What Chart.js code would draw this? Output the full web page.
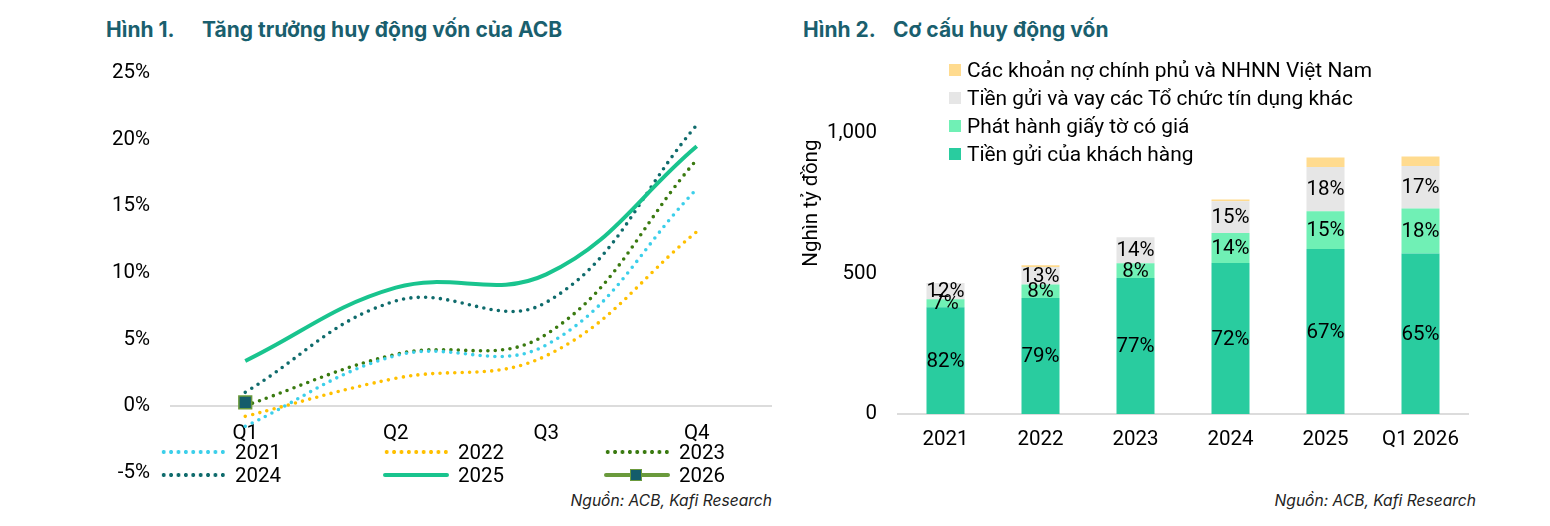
<!DOCTYPE html>
<html>
<head>
<meta charset="utf-8">
<script src="https://cdn.jsdelivr.net/npm/chart.js@4.4.1/dist/chart.umd.min.js"></script>
<style>
  html, body { margin: 0; padding: 0; background: #fff; }
  body { width: 1550px; height: 526px; position: relative; overflow: hidden; font-family: Roboto, sans-serif; }
  .abs { position: absolute; white-space: nowrap; }
  .title { font-family: Inter, Roboto, sans-serif; font-weight: 700; font-size: 21px; color: #1a5f6e; line-height: 24px; }
  .src { font-family: Inter, Roboto, sans-serif; font-style: italic; font-size: 15.6px; color: #222; line-height: 18px; }
  .leg { font-size: 20.5px; color: #000; line-height: 24px; }
  .leg2 { font-size: 20.9px; }
  .sw { position: absolute; }
</style>
</head>
<body>
<div class="abs title" style="left:106px; top:18px;">Hình 1.</div>
<div class="abs title" style="left:202px; top:18px;">Tăng trưởng huy động vốn của ACB</div>
<div class="abs title" style="left:803px; top:18px;">Hình 2.</div>
<div class="abs title" style="left:893px; top:18px;">Cơ cấu huy động vốn</div>

<div class="abs" style="left:100px; top:50px; width:690px; height:440px;"><canvas id="c1" width="690" height="440"></canvas></div>
<div class="abs" style="left:790px; top:-20px; width:700px; height:484px;"><canvas id="c2" width="700" height="484"></canvas></div>

<div id="leg1"></div>
<div id="leg2"></div>

<div class="abs src" style="right:778px; top:492px;">Nguồn: ACB, Kafi Research</div>
<div class="abs src" style="right:74px; top:492px;">Nguồn: ACB, Kafi Research</div>

<script>
// ---------- Data: Figure 1 (growth of funding, % YTD) ----------
const quarters = ['Q1', 'Q2', 'Q3', 'Q4'];
const growth2021 = [-1.5, 3.8, 4.6, 16.3];
const growth2022 = [-0.75, 2.1, 3.8, 13.1];
const growth2023 = [0.05, 3.9, 5.4, 18.5];
const growth2024 = [1.05, 7.9, 7.8, 21.1];
const growth2025 = [3.4, 8.9, 9.9, 19.5];
const growth2026 = [0.3, null, null, null];
const seriesNames1 = ['2021', '2022', '2023', '2024', '2025', '2026'];

// ---------- Data: Figure 2 (funding structure, thousand bn VND) ----------
const barCategories = ['2021', '2022', '2023', '2024', '2025', 'Q1 2026'];
const customerDeposits = [380, 413, 484, 537, 587, 571];
const valuablePapers = [28, 48, 52, 107, 134, 160];
const interbankDeposits = [58, 62, 93, 113, 158, 151];
const govDebt = [0, 6, 0, 6, 33, 34];
const customerPct = ['82%', '79%', '77%', '72%', '67%', '65%'];
const papersPct = ['7%', '8%', '8%', '14%', '15%', '18%'];
const interbankPct = ['12%', '13%', '14%', '15%', '18%', '17%'];
const seriesNames2 = ['Tiền gửi của khách hàng', 'Phát hành giấy tờ có giá', 'Tiền gửi và vay các Tổ chức tín dụng khác', 'Các khoản nợ chính phủ và NHNN Việt Nam'];

const FS = 20.5;
Chart.defaults.font.family = 'Roboto, sans-serif';
Chart.defaults.font.size = FS;
Chart.defaults.color = '#000';

const C = {
  c2021: '#3ccfea', c2022: '#ffc000', c2023: '#3a7a10', c2024: '#0f6b6c',
  c2025: '#19c48e', c2026: '#6a9a3c', c2026fill: '#145c6b',
  customer: '#29cc9f', papers: '#70f0b5', interbank: '#e6e6e6', gov: '#ffdb8f'
};

function dotted(label, data, color) {
  return { label, data, borderColor: color, backgroundColor: color, borderWidth: 3.6,
    borderDash: [0, 7.4], borderCapStyle: 'round', pointRadius: 0, tension: 0.4, order: 2 };
}

new Chart(document.getElementById('c1'), {
  type: 'line',
  data: {
    labels: quarters,
    datasets: [
      dotted(seriesNames1[0], growth2021, C.c2021),
      dotted(seriesNames1[1], growth2022, C.c2022),
      dotted(seriesNames1[2], growth2023, C.c2023),
      dotted(seriesNames1[3], growth2024, C.c2024),
      { label: seriesNames1[4], data: growth2025, borderColor: C.c2025, backgroundColor: C.c2025,
        borderWidth: 4, pointRadius: 0, tension: 0.4, order: 1 },
      { label: seriesNames1[5], data: growth2026, borderColor: C.c2026, backgroundColor: C.c2026fill,
        borderWidth: 4, pointStyle: 'rect', pointRadius: 9, pointBorderWidth: 1.5,
        pointBorderColor: C.c2026, pointBackgroundColor: C.c2026fill, order: 0 }
    ]
  },
  options: {
    responsive: false, animation: false, devicePixelRatio: 1,
    layout: { padding: { top: 23, bottom: 17, left: 0, right: 18 } },
    plugins: { legend: { display: false }, tooltip: { enabled: false } },
    scales: {
      x: {
        type: 'category', position: { y: 0 }, offset: true,
        grid: { display: false, drawTicks: false }, border: { display: false },
        ticks: { padding: 15, color: '#000', font: { size: FS } },
        afterFit: (s) => { s.height = 0; }
      },
      y: {
        min: -5, max: 25,
        ticks: { stepSize: 5, padding: 0, color: '#000', font: { size: FS }, callback: (v) => v + '%' },
        grid: { drawTicks: true, tickLength: 20, tickColor: 'rgba(0,0,0,0)', lineWidth: 2,
                color: (ctx) => (ctx.tick && ctx.tick.value === 0 ? '#dcdcdc' : 'rgba(0,0,0,0)') },
        border: { display: false },
        afterFit: (s) => { s.width = 70; }
      }
    }
  }
});

// segment labels for stacked bars
const segLabels = {
  id: 'segLabels',
  afterDatasetsDraw(chart) {
    const ctx = chart.ctx;
    ctx.save();
    ctx.font = FS + 'px Roboto, sans-serif';
    ctx.fillStyle = '#000';
    ctx.textAlign = 'center';
    ctx.textBaseline = 'middle';
    chart.data.datasets.forEach((ds, di) => {
      if (!ds.pctLabels) return;
      const meta = chart.getDatasetMeta(di);
      meta.data.forEach((el, i) => {
        const t = ds.pctLabels[i];
        if (!t) return;
        ctx.fillText(t, el.x, (el.y + el.base) / 2 + 1);
      });
    });
    ctx.restore();
  }
};

new Chart(document.getElementById('c2'), {
  type: 'bar',
  data: {
    labels: barCategories,
    datasets: [
      { label: seriesNames2[0], data: customerDeposits, backgroundColor: C.customer, pctLabels: customerPct },
      { label: seriesNames2[1], data: valuablePapers, backgroundColor: C.papers, pctLabels: papersPct },
      { label: seriesNames2[2], data: interbankDeposits, backgroundColor: C.interbank, pctLabels: interbankPct },
      { label: seriesNames2[3], data: govDebt, backgroundColor: C.gov }
    ]
  },
  options: {
    responsive: false, animation: false, devicePixelRatio: 1,
    layout: { padding: { top: 12, bottom: 0, left: 0, right: 22 } },
    datasets: { bar: { categoryPercentage: 1, barPercentage: 0.4, borderWidth: 0 } },
    plugins: { legend: { display: false }, tooltip: { enabled: false } },
    scales: {
      x: {
        stacked: true,
        grid: { display: false, drawTicks: false },
        border: { display: true, color: '#dcdcdc', width: 2 },
        ticks: { padding: 14, color: '#000', font: { size: FS } },
        afterFit: (s) => { s.height = 50; }
      },
      y: {
        stacked: true, min: 0, max: 1500,
        ticks: { stepSize: 500, padding: 0, color: '#000', font: { size: FS } },
        afterBuildTicks: (s) => { s.ticks = s.ticks.filter(t => t.value <= 1000); },
        grid: { display: false, drawTicks: true, tickLength: 21, tickColor: 'rgba(0,0,0,0)' },
        border: { display: false },
        title: { display: true, text: 'Nghìn tỷ đồng', color: '#000', font: { size: FS }, padding: { top: 10, bottom: 0 } },
        afterFit: (s) => { s.width = 108; }
      }
    }
  },
  plugins: [segLabels]
});

// ---------- HTML legends ----------
function dotBg(color) {
  return `background-image: radial-gradient(circle, ${color} 1.7px, rgba(0,0,0,0) 2.3px); background-size: 7.4px 8px; background-repeat: repeat-x; background-position: 0 0;`;
}
const leg1 = document.getElementById('leg1');
const colX = [160, 383, 604];
const rowY = [452, 475];
const legStyles = [
  { type: 'dot', color: C.c2021 }, { type: 'dot', color: C.c2022 }, { type: 'dot', color: C.c2023 },
  { type: 'dot', color: C.c2024 }, { type: 'solid', color: C.c2025 }, { type: 'marker', color: C.c2026 }
];
seriesNames1.forEach((name, i) => {
  const x = colX[i % 3], y = rowY[Math.floor(i / 3)];
  const st = legStyles[i];
  let sw = '';
  if (st.type === 'dot') {
    sw = `<div class="sw" style="left:${x}px; top:${y - 4}px; width:68px; height:8px; ${dotBg(st.color)}"></div>`;
  } else if (st.type === 'solid') {
    sw = `<div class="sw" style="left:${x}px; top:${y - 2}px; width:66px; height:4px; border-radius:2px; background:${st.color};"></div>`;
  } else {
    sw = `<div class="sw" style="left:${x}px; top:${y - 2}px; width:66px; height:4px; border-radius:2px; background:${st.color};"></div>` +
         `<div class="sw" style="left:${x + 26}px; top:${y - 6.5}px; width:10px; height:10px; background:${C.c2026fill}; border:1.5px solid ${st.color};"></div>`;
  }
  leg1.insertAdjacentHTML('beforeend', sw + `<div class="abs leg" style="left:${x + 75}px; top:${y - 12}px;">${name}</div>`);
});

const leg2 = document.getElementById('leg2');
const leg2Order = [3, 2, 1, 0];
const leg2Colors = [C.customer, C.papers, C.interbank, C.gov];
leg2Order.forEach((idx, r) => {
  const y = 70 + r * 28;
  leg2.insertAdjacentHTML('beforeend',
    `<div class="sw" style="left:949px; top:${y - 6}px; width:12px; height:12px; background:${leg2Colors[idx]};"></div>` +
    `<div class="abs leg leg2" style="left:967px; top:${y - 12}px;">${seriesNames2[idx]}</div>`);
});
</script>
</body>
</html>
